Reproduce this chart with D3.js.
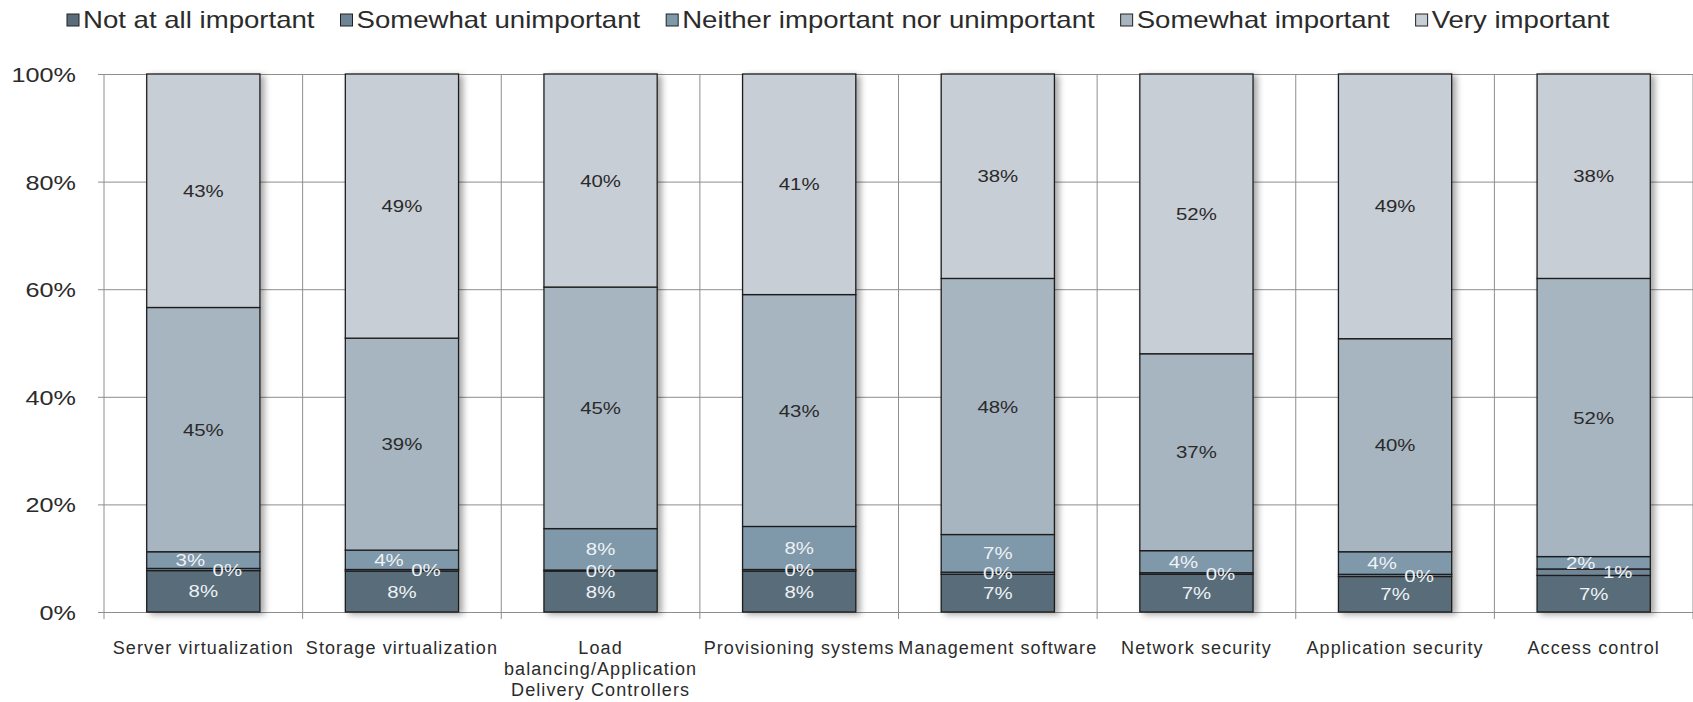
<!DOCTYPE html>
<html>
<head>
<meta charset="utf-8">
<script src="https://cdn.jsdelivr.net/npm/d3@7/dist/d3.min.js"></script>
<style>
  html, body { margin: 0; padding: 0; background: #fff; }
  svg { display: block; font-family: "Liberation Sans", Arial, sans-serif; }
</style>
</head>
<body>
<svg id="chart" width="1693" height="702"></svg>
<script>
// Survey responses: importance of each capability (percent of respondents)
const categories = [
  "Server virtualization",
  "Storage virtualization",
  "Load balancing/Application Delivery Controllers",
  "Provisioning systems",
  "Management software",
  "Network security",
  "Application security",
  "Access control"
];
const seriesNames = [
  "Not at all important",
  "Somewhat unimportant",
  "Neither important nor unimportant",
  "Somewhat important",
  "Very important"
];
const notAtAll      = [7.7, 7.6, 7.6, 7.6, 7.0, 7.0, 6.6, 6.8];
const somewhatUnimp = [0.4, 0.3, 0.2, 0.3, 0.4, 0.3, 0.4, 1.2];
const neither       = [3.1, 3.6, 7.7, 8.0, 7.0, 4.1, 4.2, 2.3];
const somewhatImp   = [45.4, 39.4, 44.9, 43.1, 47.6, 36.6, 39.6, 51.7];
const veryImp       = [43.4, 49.1, 39.6, 41.0, 38.0, 52.0, 49.2, 38.0];
const yTicks = [0, 20, 40, 60, 80, 100];

// Wrapped tick label lines for long category names
const categoryLines = {
  "Load balancing/Application Delivery Controllers": ["Load", "balancing/Application", "Delivery Controllers"]
};

const colors = ["#596c7a", "#6f8595", "#7f98aa", "#a7b5c1", "#c8ced6"];
const labelColors = ["#eef2f5", "#eef2f5", "#eef2f5", "#2a2a2a", "#2a2a2a"];
const stretch = 1.2; // horizontal widening of the text glyphs

const seriesValues = [notAtAll, somewhatUnimp, neither, somewhatImp, veryImp];
const rows = categories.map((c, i) => {
  const r = { category: c };
  seriesNames.forEach((s, k) => { r[s] = seriesValues[k][i]; });
  return r;
});

const svg = d3.select("#chart");
const W = 1693, H = 702;
const margin = { top: 74, right: 0, bottom: 90, left: 104 };
const plotW = W - margin.left - margin.right;
const plotH = H - margin.top - margin.bottom;

// places a text at (px, py) widened horizontally around its anchor
function placeStretched(sel, px, py) {
  sel.attr("x", 0).attr("y", 0)
    .attr("transform", `translate(${px},${py}) scale(${stretch},1)`);
}

const defs = svg.append("defs");
const shadow = defs.append("filter").attr("id", "barShadow")
  .attr("x", "-10%").attr("y", "-5%").attr("width", "130%").attr("height", "115%");
shadow.append("feDropShadow").attr("dx", 4).attr("dy", 2).attr("stdDeviation", 3)
  .attr("flood-color", "#000").attr("flood-opacity", 0.35);

const x = d3.scaleBand().domain(categories).range([0, plotW]).paddingInner(0.43).paddingOuter(0.215);
const y = d3.scaleLinear().domain([0, 100]).range([plotH, 0]);

const g = svg.append("g").attr("transform", `translate(${margin.left},${margin.top})`);

// Horizontal gridlines with ticks on the left
const yAxis = d3.axisLeft(y).tickValues(yTicks).tickSize(-plotW).tickFormat(d => d + "%");
const yg = g.append("g").call(yAxis);
yg.select(".domain").remove();
yg.selectAll(".tick line").attr("stroke", "#8e8e8e").attr("x1", -6);
yg.selectAll(".tick text").attr("fill", "#2b2b2b").style("font-size", "21px").attr("dy", "0.36em")
  .each(function() { placeStretched(d3.select(this), -28, 0); });

// Vertical category separators
const step = x.step();
const seps = d3.range(categories.length + 1).map(i => i * step);
g.append("g").selectAll("line").data(seps).join("line")
  .attr("x1", d => d).attr("x2", d => d)
  .attr("y1", 0).attr("y2", plotH + 7)
  .attr("stroke", "#8e8e8e").attr("stroke-width", 1);

// Stacked bars normalised to 100%
const stack = d3.stack().keys(seriesNames).offset(d3.stackOffsetExpand);
const stacked = stack(rows);

const barsG = g.append("g").attr("filter", "url(#barShadow)");
stacked.forEach((layer, k) => {
  barsG.append("g").selectAll("rect").data(layer).join("rect")
    .attr("x", d => x(d.data.category))
    .attr("width", x.bandwidth())
    .attr("y", d => y(d[1] * 100))
    .attr("height", d => Math.max(0, y(d[0] * 100) - y(d[1] * 100)))
    .attr("fill", colors[k])
    .attr("stroke", "#1e1e1e")
    .attr("stroke-width", 1.3);
});

// Value labels
const labelG = g.append("g").style("font-size", "17px").attr("text-anchor", "middle");
stacked.forEach((layer, k) => {
  labelG.append("g").selectAll("text").data(layer).join("text")
    .attr("dy", "0.36em")
    .attr("fill", labelColors[k])
    .text(d => Math.round(d.data[seriesNames[k]]) + "%")
    .each(function(d) {
      let cx = x(d.data.category) + x.bandwidth() / 2;
      const smallNeither = d.data[seriesNames[2]] < 5;
      if (smallNeither && k === 2) cx -= 13;
      if (smallNeither && k === 1) cx += 24;
      placeStretched(d3.select(this), cx, y((d[0] + d[1]) / 2 * 100));
    });
});

// Category labels
const xl = g.append("g").attr("text-anchor", "middle").style("font-size", "18px").attr("fill", "#2b2b2b");
categories.forEach(c => {
  const lines = categoryLines[c] || [c];
  const cx = x(c) + x.bandwidth() / 2;
  lines.forEach((ln, i) => {
    xl.append("text")
      .attr("x", cx)
      .attr("y", plotH + 42 + i * 21)
      .style("letter-spacing", "1.1px")
      .text(ln);
  });
});

// Legend
const legend = svg.append("g").attr("transform", "translate(0,20)").style("font-size", "23px");
let lx = 67;
seriesNames.forEach((s, k) => {
  const item = legend.append("g").attr("transform", `translate(${lx},0)`);
  item.append("rect").attr("x", 0).attr("y", -6).attr("width", 12).attr("height", 12)
    .attr("fill", colors[k]).attr("stroke", "#222").attr("stroke-width", 1);
  const t = item.append("text").attr("dy", "0.36em").attr("fill", "#2b2b2b").text(s);
  placeStretched(t, 16, 0);
  lx += 16 + t.node().getComputedTextLength() * stretch + 26;
});
</script>
</body>
</html>
